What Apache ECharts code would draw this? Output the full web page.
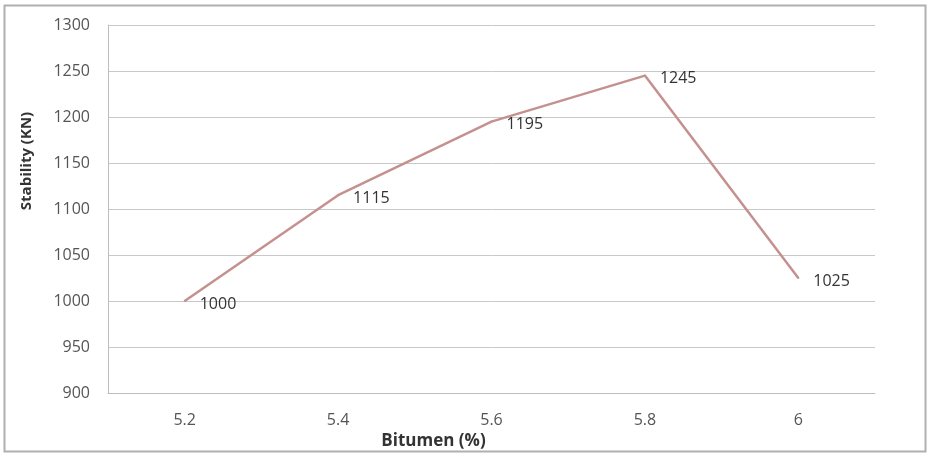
<!DOCTYPE html>
<html>
<head>
<meta charset="utf-8">
<script src="https://cdn.jsdelivr.net/npm/echarts@6/dist/echarts.min.js"></script>
<style>html,body{margin:0;padding:0;background:#fff;}#c{width:931px;height:455px;}</style>
</head>
<body>
<div id="c"></div>
<script>
const categories = ['5.2', '5.4', '5.6', '5.8', '6'];
const stability = [1000, 1115, 1195, 1245, 1025];
const yTicks = {min: 900, max: 1300, interval: 50};

const chart = echarts.init(document.getElementById('c'), null, {renderer: 'canvas'});
const font = '"Open Sans", Lato, sans-serif';
chart.setOption({
  animation: false,
  backgroundColor: '#fff',
  graphic: [{
    type: 'rect', shape: {x: 4.5, y: 5.5, width: 921, height: 446},
    style: {fill: 'none', stroke: '#b0b0b0', lineWidth: 2}, silent: true
  }],
  grid: {left: 108, right: 56, top: 25, bottom: 62, containLabel: false, outerBoundsMode: 'none'},
  xAxis: {
    type: 'category', data: categories, boundaryGap: true,
    axisLine: {lineStyle: {color: '#bdbdbd', width: 1}},
    axisTick: {show: false},
    axisLabel: {color: '#555', fontFamily: font, fontSize: 16, margin: 19},
    name: 'Bitumen (%)', nameLocation: 'middle', nameGap: 40,
    nameTextStyle: {color: '#333', fontFamily: font, fontSize: 17, fontWeight: 'bold', padding: [0, 116, 0, 0]}
  },
  yAxis: {
    type: 'value', min: yTicks.min, max: yTicks.max, interval: yTicks.interval,
    axisLine: {show: true, lineStyle: {color: '#bdbdbd', width: 1}},
    axisTick: {show: false},
    splitLine: {lineStyle: {color: '#c8c8c8', width: 1}},
    axisLabel: {color: '#555', fontFamily: font, fontSize: 16, margin: 18, formatter: v => String(v)},
    name: 'Stability (KN)', nameLocation: 'middle', nameGap: 74, nameRotate: 90,
    nameTextStyle: {color: '#333', fontFamily: font, fontSize: 15, fontWeight: 'bold', padding: [0, 0, 0, 96]}
  },
  series: [{
    type: 'line', data: stability, showSymbol: true, symbol: 'circle', symbolSize: 2,
    itemStyle: {color: '#c4918f', borderWidth: 0},
    lineStyle: {color: '#c4918f', width: 2.5},
    label: {show: true, position: 'right', distance: 14, offset: [0, 3], color: '#333', fontFamily: font, fontSize: 16}
  }]
});
</script>
</body>
</html>
